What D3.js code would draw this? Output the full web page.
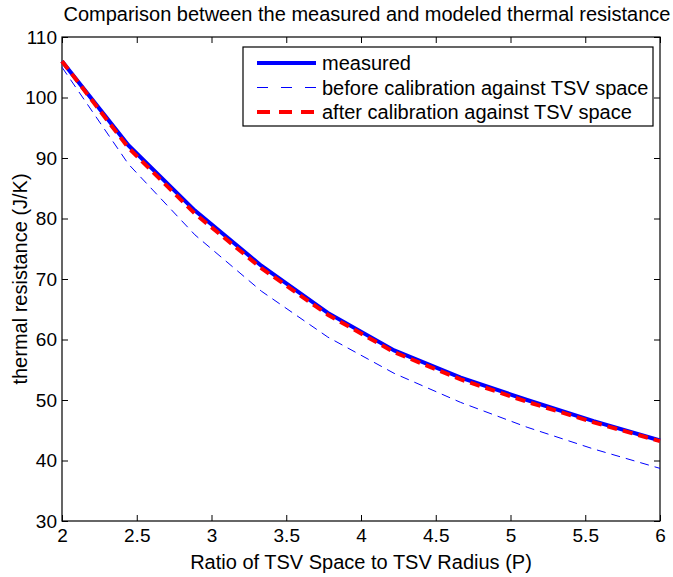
<!DOCTYPE html>
<html>
<head>
<meta charset="utf-8">
<script src="https://cdn.jsdelivr.net/npm/d3@7"></script>
<style>
  body { margin: 0; background: #fff; }
  svg text { font-family: "Liberation Sans", Arial, Helvetica, sans-serif; fill: #000; }
</style>
</head>
<body>
<div id="chart"></div>
<script>
// ratio P = TSV space / TSV radius
const ratio = [2.0, 2.444, 2.889, 3.333, 3.778, 4.222, 4.667, 5.111, 5.556, 6.0];
const measured = [106.0, 92.1, 81.3, 72.2, 64.4, 58.2, 53.7, 50.0, 46.5, 43.3];
const beforeCal = [105.0, 89.0, 77.3, 68.0, 60.4, 54.4, 49.6, 45.5, 41.9, 38.7];
const afterCal = [106.0, 91.7, 80.8, 71.8, 64.1, 57.9, 53.4, 49.7, 46.3, 43.2];
const xTicks = [2, 2.5, 3, 3.5, 4, 4.5, 5, 5.5, 6];
const yTicks = [30, 40, 50, 60, 70, 80, 90, 100, 110];
const legendLabels = ["measured", "before calibration against TSV space", "after calibration against TSV space"];

const W = 673, H = 577;
const margin = { top: 37, right: 13, bottom: 56, left: 62 };
const width = W - margin.left - margin.right;
const height = H - margin.top - margin.bottom;
const fs = 20, tickFs = 19;

const svg = d3.select("#chart").append("svg")
  .attr("width", W)
  .attr("height", H);

const g = svg.append("g")
  .attr("transform", `translate(${margin.left},${margin.top})`);

const x = d3.scaleLinear().domain([2, 6]).range([0, width]);
const y = d3.scaleLinear().domain([30, 110]).range([height, 0]);

// axes, matlab style: ticks pointing inwards on all sides
const tickLen = 6;
g.append("g")
  .attr("transform", `translate(0,${height})`)
  .call(d3.axisBottom(x).tickValues(xTicks).tickFormat(d3.format("")).tickSizeInner(-tickLen).tickSizeOuter(0).tickPadding(8))
  .call(a => a.selectAll("text").attr("font-size", tickFs));
g.append("g")
  .call(d3.axisTop(x).tickValues(xTicks).tickFormat("").tickSizeInner(-tickLen).tickSizeOuter(0));
g.append("g")
  .call(d3.axisLeft(y).tickValues(yTicks).tickSizeInner(-tickLen).tickSizeOuter(0).tickPadding(5))
  .call(a => a.selectAll("text").attr("font-size", tickFs));
g.append("g")
  .attr("transform", `translate(${width},0)`)
  .call(d3.axisRight(y).tickValues(yTicks).tickFormat("").tickSizeInner(-tickLen).tickSizeOuter(0));
g.selectAll(".domain").remove();
g.selectAll(".tick line").attr("stroke", "#000");

g.append("rect")
  .attr("width", width).attr("height", height)
  .attr("fill", "none").attr("stroke", "#000").attr("stroke-width", 1.2);

// series
const series = [
  { values: measured, color: "#0000ff", w: 4, dash: null },
  { values: beforeCal, color: "#0000ff", w: 1, dash: "9,6" },
  { values: afterCal, color: "#ff0000", w: 4, dash: "10,6" }
];
const line = d3.line().x((d, i) => x(ratio[i])).y(d => y(d));
series.forEach(s => {
  g.append("path")
    .datum(s.values)
    .attr("fill", "none")
    .attr("stroke", s.color)
    .attr("stroke-width", s.w)
    .attr("stroke-dasharray", s.dash)
    .attr("d", line);
});

// legend
const lg = svg.append("g").attr("transform", "translate(243,47)");
lg.append("rect")
  .attr("width", 410).attr("height", 79)
  .attr("fill", "#fff").attr("stroke", "#000").attr("stroke-width", 1.2);
series.forEach((s, i) => {
  const ly = 16 + i * 24.5;
  lg.append("line")
    .attr("x1", 14).attr("x2", 73)
    .attr("y1", ly).attr("y2", ly)
    .attr("stroke", s.color)
    .attr("stroke-width", s.w)
    .attr("stroke-dasharray", s.dash ? (s.w > 2 ? "13,9" : "11,13") : null);
  lg.append("text")
    .attr("x", 79).attr("y", ly)
    .attr("dy", "0.35em")
    .attr("font-size", fs)
    .text(legendLabels[i]);
});

// titles
svg.append("text")
  .attr("x", margin.left + width / 2 + 6).attr("y", 21)
  .attr("text-anchor", "middle")
  .attr("font-size", fs)
  .text("Comparison between the measured and modeled thermal resistance");
svg.append("text")
  .attr("x", margin.left + width / 2).attr("y", H - 8)
  .attr("text-anchor", "middle")
  .attr("font-size", fs)
  .text("Ratio of TSV Space to TSV Radius (P)");
svg.append("text")
  .attr("transform", `translate(27,${margin.top + height / 2}) rotate(-90)`)
  .attr("text-anchor", "middle")
  .attr("font-size", fs)
  .text("thermal resistance (J/K)");
</script>
</body>
</html>
